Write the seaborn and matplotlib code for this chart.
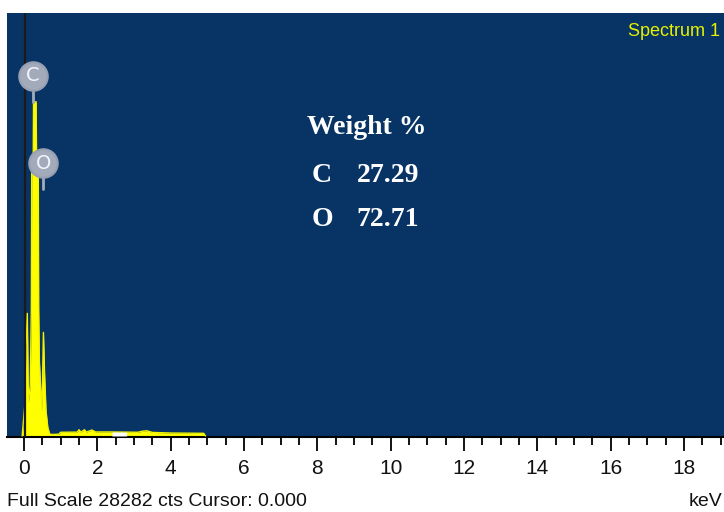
import numpy as np
import pandas as pd
import matplotlib
matplotlib.use("Agg")
import matplotlib.pyplot as plt
import seaborn as sns
from matplotlib.ticker import MultipleLocator

# EDS spectrum (energy in keV, counts)
energy_kev = [-0.05, 0.02, 0.05, 0.09, 0.12, 0.17, 0.20, 0.21, 0.25, 0.26, 0.33, 0.345,
              0.39, 0.40, 0.42, 0.45, 0.49, 0.53, 0.56, 0.60, 0.65, 0.70, 0.75, 0.95,
              1.00, 1.45, 1.50, 1.55, 1.65, 1.70, 1.85, 1.95, 2.40, 2.80, 3.10, 3.25,
              3.35, 3.50, 4.00, 4.90, 4.95]
counts = [0, 2000, 5656, 8200, 2263, 3394, 8485, 17535, 18100, 22343, 22343, 18100,
          17535, 8485, 5000, 3394, 1697, 6929, 4242, 1697, 566, 141, 100, 120,
          250, 260, 420, 260, 420, 260, 400, 270, 270, 260, 250, 330,
          350, 240, 200, 180, 0]
full_scale = 28282
roi_kev = [2.40, 2.80]

# Element line markers
elements = ["C", "O"]
element_kev = [0.245, 0.52]
marker_cts = [24070, 18250]
stem_cts = [22300, 16500]

# Quantification table
weight_label = "Weight %"
weight_elements = ["C", "O"]
weight_values = ["27.29", "72.71"]

x_ticks = [0, 2, 4, 6, 8, 10, 12, 14, 16, 18]
cursor_kev = 0.04

W, H = 724, 512
fig = plt.figure(figsize=(W / 100, H / 100), dpi=100)
fig.patch.set_facecolor("white")
sns.set_style("white")

left_px, right_px, top_px, bot_px = 7, 724, 13, 437
ax = fig.add_axes([left_px / W, 1 - bot_px / H, (right_px - left_px) / W, (bot_px - top_px) / H])
ax.set_facecolor("#083465")

df = pd.DataFrame({"keV": energy_kev, "cts": counts})
ax.fill_between(df["keV"], 0, df["cts"], color="#ffff00", lw=0, zorder=2)
sns.lineplot(data=df, x="keV", y="cts", ax=ax, color="#f4f400", lw=1.0, zorder=3,
             estimator=None, sort=False)

# highlighted region of interest on the tail
roi = df[(df["keV"] >= roi_kev[0]) & (df["keV"] <= roi_kev[1])]
ax.fill_between(roi["keV"], 0, roi["cts"], color="white", lw=0, zorder=4)

# cursor line
ax.axvline(cursor_kev, color="#1a1a1a", lw=1.6, zorder=5)

# element markers with stems
for el, xk, yk, ys in zip(elements, element_kev, marker_cts, stem_cts):
    ax.plot([xk, xk], [ys, yk], color="#a3abbb", lw=2, zorder=6)
    ax.scatter([xk], [yk], s=420, color="#a3abbb", edgecolor="#97a0b2", lw=1.5, zorder=7)
    ax.text(xk, yk, el, color="#f2f5ff", fontsize=14, ha="center", va="center",
            family="DejaVu Sans", zorder=8)

# weight % table
def ax_y(ypx):
    return (bot_px - ypx) / (bot_px - top_px)

def ax_x(xpx):
    return (xpx - left_px) / (right_px - left_px)

ax.text(ax_x(367), ax_y(128), weight_label, transform=ax.transAxes,
        ha="center", va="center", color="white", fontsize=20, fontweight="bold",
        family="Liberation Serif")
for i, (el, v) in enumerate(zip(weight_elements, weight_values)):
    yax = ax_y(176 + 43 * i)
    ax.text(ax_x(322), yax, el, transform=ax.transAxes,
            ha="center", va="center", color="white", fontsize=20, fontweight="bold",
            family="Liberation Serif")
    ax.text(ax_x(419), yax, v, transform=ax.transAxes,
            ha="right", va="center", color="white", fontsize=20, fontweight="bold",
            family="Liberation Serif")

ax.text(0.995, ax_y(32), "Spectrum 1", transform=ax.transAxes,
        ha="right", va="center", color="#e6f000", fontsize=13, family="Liberation Sans")

x0 = (left_px - 24) / 36.67
x1 = (right_px - 24) / 36.67
ax.set_xlim(x0, x1)
ax.set_ylim(-full_scale * 1 / 423, full_scale * (436 - top_px) / 423)

ax.set_xticks(x_ticks)
ax.set_xticklabels([str(t) for t in x_ticks])
ax.xaxis.set_minor_locator(MultipleLocator(0.5))
ax.tick_params(axis="x", which="both", bottom=True, top=False)
ax.tick_params(axis="x", which="major", direction="out", length=10, width=1.3, color="black",
               pad=6, labelsize=15, labelcolor="#111111")
ax.tick_params(axis="x", which="minor", direction="out", length=6, width=1.3, color="black")
for lab in ax.get_xticklabels():
    lab.set_family("Liberation Sans")
ax.set_yticks([])
ax.set_xlabel("")
ax.set_ylabel("")
for s in ["top", "right", "left"]:
    ax.spines[s].set_visible(False)
ax.spines["bottom"].set_color("black")
ax.spines["bottom"].set_linewidth(1.5)

fig.text(7 / W, 1 - 501 / H, "Full Scale 28282 cts Cursor: 0.000", ha="left", va="center",
         fontsize=14, color="#111111", family="Liberation Sans")
fig.text(722 / W, 1 - 501 / H, "keV", ha="right", va="center",
         fontsize=14, color="#111111", family="Liberation Sans")

fig.savefig("out.png", dpi=100, facecolor="white")
